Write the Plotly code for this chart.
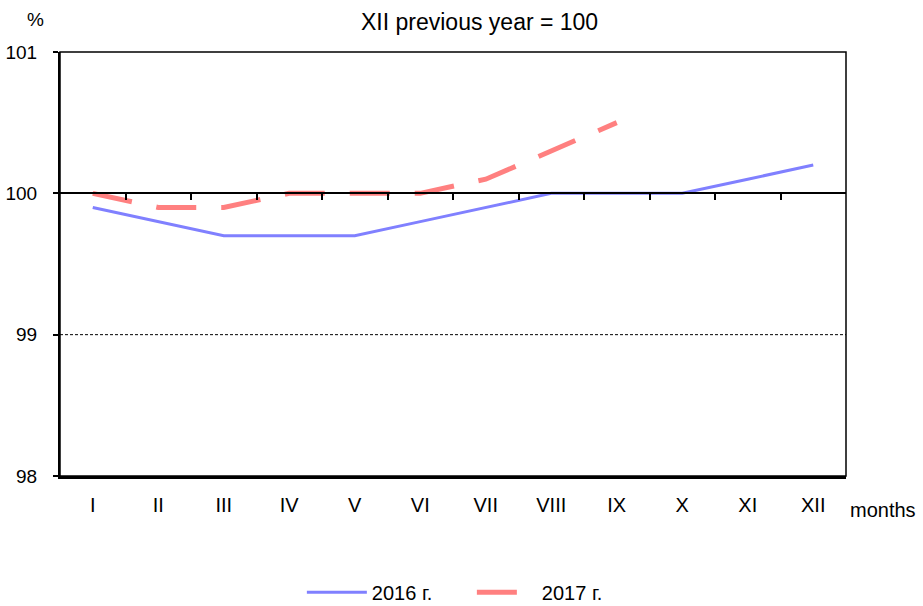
import plotly.graph_objects as go

months = ["I", "II", "III", "IV", "V", "VI", "VII", "VIII", "IX", "X", "XI", "XII"]
values_2016 = [99.9, 99.8, 99.7, 99.7, 99.7, 99.8, 99.9, 100.0, 100.0, 100.0, 100.1, 100.2]
values_2017 = [100.0, 99.9, 99.9, 100.0, 100.0, 100.0, 100.1, 100.3, 100.5]
y_ticks = [98, 99, 100, 101]
y_min, y_max = 98, 101
base_value = 100

FONT = "Liberation Sans, Arial, sans-serif"

fig = go.Figure()
fig.add_trace(go.Scatter(
    x=months, y=values_2016, mode="lines", name="2016 г.",
    line=dict(color="#8080FF", width=3),
))
fig.add_trace(go.Scatter(
    x=months[:len(values_2017)], y=values_2017, mode="lines", name="2017 г.",
    line=dict(color="#FF8080", width=5, dash="40px,25px"),
))
# invisible trace on the overlay axis (carries the 100-line with boundary ticks)
fig.add_trace(go.Scatter(
    x=[-0.5, 11.5], y=[base_value, base_value], xaxis="x2", mode="lines",
    line=dict(color="rgba(0,0,0,0)"), showlegend=False, hoverinfo="skip",
))

base_pos = (base_value - y_min) / (y_max - y_min)

fig.update_layout(
    width=923, height=606,
    margin=dict(l=60, r=77, t=52, b=130, autoexpand=False),
    plot_bgcolor="white", paper_bgcolor="white",
    font=dict(family=FONT, size=19, color="black"),
    showlegend=True,
    legend=dict(orientation="h", x=0.524, xanchor="center", y=-0.274, yanchor="middle",
                font=dict(size=20), itemwidth=60, entrywidth=95, tracegroupgap=0),
    xaxis=dict(
        type="category", categoryorder="array", categoryarray=months,
        range=[-0.5, 11.5], showgrid=False, showline=True, linecolor="black",
        linewidth=2.5, ticks="", ticklabelstandoff=9, zeroline=False,
        tickfont=dict(size=20),
    ),
    xaxis2=dict(
        overlaying="x", anchor="free", position=base_pos, side="bottom",
        range=[-0.5, 11.5], showgrid=False, showline=True, linecolor="black",
        linewidth=1.5, ticks="outside", ticklen=6, tickwidth=1.5, tickcolor="black",
        tickvals=[i + 0.5 for i in range(11)], showticklabels=False, zeroline=False,
    ),
    yaxis=dict(
        range=[y_min, y_max], tickvals=y_ticks, showgrid=False, showline=True,
        linecolor="black", linewidth=2, ticks="outside", ticklen=5, tickwidth=1.5,
        tickcolor="black", zeroline=False, ticklabelstandoff=12,
        tickfont=dict(size=19),
    ),
    shapes=[
        dict(type="rect", xref="paper", yref="paper", x0=0, x1=1, y0=0, y1=1,
             line=dict(color="black", width=1.5), layer="above"),
        dict(type="line", xref="paper", yref="y", x0=0, x1=1, y0=99, y1=99,
             line=dict(color="black", width=1, dash="3px,2px"), layer="below"),
    ],
    annotations=[
        dict(text="XII previous year = 100", xref="paper", yref="paper",
             x=0.534, y=1.106, showarrow=False, font=dict(size=23)),
        dict(text="%", xref="paper", yref="paper", x=-0.045, y=1.106,
             showarrow=False, font=dict(size=19)),
        dict(text="months", xref="paper", yref="paper", x=1.003, y=-0.111,
             xanchor="left", showarrow=False, font=dict(size=20)),
    ],
)

fig.write_html(
    "out.html",
    config={"displayModeBar": False},
    post_script="document.body.style.margin='0';document.body.style.padding='0';",
)
